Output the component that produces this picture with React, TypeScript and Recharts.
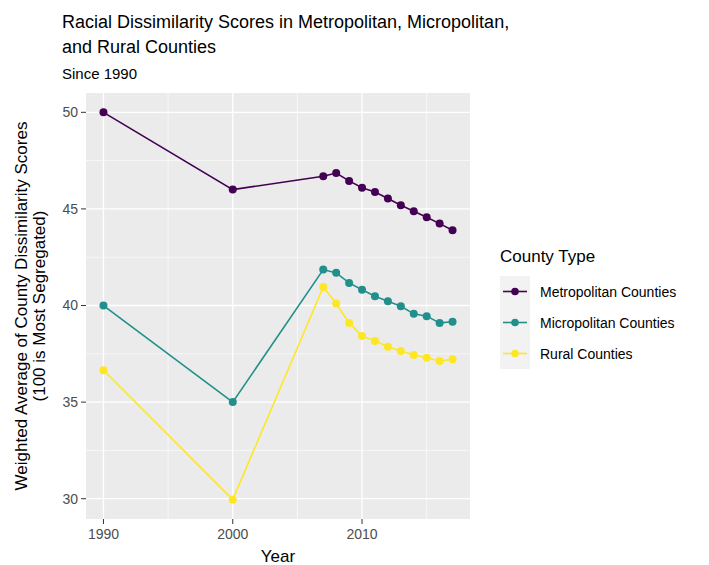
import {
  CartesianGrid,
  Line,
  LineChart,
  XAxis,
  YAxis,
} from "recharts";

const YEARS = [1990, 2000, 2007, 2008, 2009, 2010, 2011, 2012, 2013, 2014, 2015, 2016, 2017];

const METRO = [50.0, 46.0, 46.69, 46.86, 46.45, 46.1, 45.88, 45.54, 45.19, 44.88, 44.57, 44.24, 43.9];
const MICRO = [40.0, 35.0, 41.86, 41.69, 41.17, 40.82, 40.48, 40.22, 39.96, 39.57, 39.45, 39.1, 39.16];
const RURAL = [36.65, 29.95, 40.96, 40.1, 39.1, 38.42, 38.16, 37.87, 37.65, 37.44, 37.3, 37.13, 37.22];

const SERIES = [
  { key: "metro", name: "Metropolitan Counties", color: "#440154" },
  { key: "micro", name: "Micropolitan Counties", color: "#21908C" },
  { key: "rural", name: "Rural Counties", color: "#FDE725" },
];

const X_MAJOR = [1990, 2000, 2010];
const X_MINOR = [1995, 2005, 2015];
const Y_MAJOR = [30, 35, 40, 45, 50];
const Y_MINOR = [32.5, 37.5, 42.5, 47.5];

const FONT = "'Liberation Sans', Arial, Helvetica, sans-serif";

const data = YEARS.map((year, i) => ({
  year,
  metro: METRO[i],
  micro: MICRO[i],
  rural: RURAL[i],
}));

function LegendBox() {
  return (
    <div style={{ position: "absolute", left: 500, top: 247, fontFamily: FONT }}>
      <div style={{ fontSize: 17, lineHeight: "20px", color: "#000", marginBottom: 9 }}>County Type</div>
      {SERIES.map((s) => (
        <div key={s.key} style={{ display: "flex", alignItems: "center", height: 31 }}>
          <svg width={30} height={31} style={{ background: "#F2F2F2", display: "block" }}>
            <line x1={3} x2={27} y1={15.5} y2={15.5} stroke={s.color} strokeWidth={1.6} />
            <circle cx={15} cy={15.5} r={3.8} fill={s.color} />
          </svg>
          <span style={{ marginLeft: 10, fontSize: 14, color: "#000" }}>{s.name}</span>
        </div>
      ))}
    </div>
  );
}

export default function App() {
  return (
    <div style={{ position: "absolute", left: 0, top: 0, width: 709, height: 565, background: "#fff", fontFamily: FONT }}>
      <div style={{ position: "absolute", left: 62, top: 10, fontSize: 18, lineHeight: "25px", color: "#000" }}>
        Racial Dissimilarity Scores in Metropolitan, Micropolitan,
        <br />
        and Rural Counties
      </div>
      <div style={{ position: "absolute", left: 62, top: 65, fontSize: 15, color: "#000" }}>Since 1990</div>
      <div
        style={{
          position: "absolute",
          left: 31,
          top: 306,
          width: 440,
          transform: "translate(-50%, -50%) rotate(-90deg)",
          textAlign: "center",
          fontSize: 17,
          lineHeight: "18px",
          color: "#000",
          whiteSpace: "nowrap",
        }}
      >
        Weighted Average of County Dissimilarity Scores
        <br />
        (100 is Most Segregated)
      </div>
      <div style={{ position: "absolute", left: 278, top: 547, transform: "translateX(-50%)", fontSize: 17, color: "#000" }}>
        Year
      </div>
      <LineChart
        width={709}
        height={565}
        data={data}
        margin={{ top: 93, right: 239, bottom: 16, left: 54 }}
        style={{ position: "absolute", left: 0, top: 0 }}
      >
        <CartesianGrid
          fill="#EBEBEB"
          stroke="#FFFFFF"
          strokeWidth={0.6}
          horizontalValues={Y_MINOR}
          verticalValues={X_MINOR}
        />
        <CartesianGrid
          stroke="#FFFFFF"
          strokeWidth={1.3}
          horizontalValues={Y_MAJOR}
          verticalValues={X_MAJOR}
        />
        <XAxis
          dataKey="year"
          type="number"
          domain={[1988.65, 2018.35]}
          ticks={X_MAJOR}
          height={30}
          axisLine={false}
          tickSize={5}
          tickLine={{ stroke: "#333333" }}
          tick={{ fill: "#4D4D4D", fontSize: 14, fontFamily: FONT }}
          tickMargin={5}
        />
        <YAxis
          type="number"
          domain={[28.95, 51.0]}
          ticks={Y_MAJOR}
          width={32}
          axisLine={false}
          tickSize={5}
          tickLine={{ stroke: "#333333" }}
          tick={{ fill: "#4D4D4D", fontSize: 14, fontFamily: FONT }}
          tickMargin={3}
          allowDataOverflow
        />
        {SERIES.map((s) => (
          <Line
            key={s.key}
            dataKey={s.key}
            name={s.name}
            type="linear"
            stroke={s.color}
            strokeWidth={1.6}
            dot={{ r: 4, fill: s.color, stroke: s.color, strokeWidth: 0 }}
            isAnimationActive={false}
          />
        ))}
      </LineChart>
      <LegendBox />
    </div>
  );
}
